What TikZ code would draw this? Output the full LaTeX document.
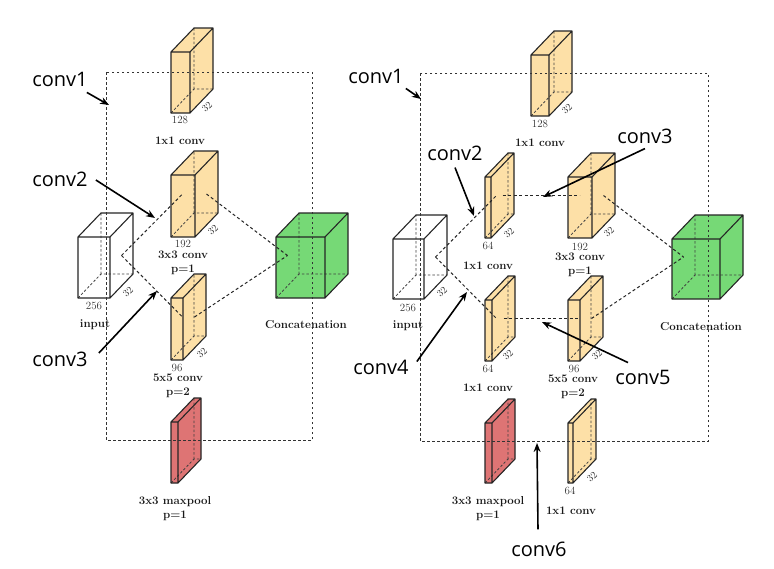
\documentclass[tikz,border=0pt]{standalone}
\usepackage{fontspec}
\newfontfamily\annofont{Open Sans}
\usetikzlibrary{arrows.meta,calc}

\definecolor{convyellow}{RGB}{253,224,167}
\definecolor{catgreen}{RGB}{118,217,118}
\definecolor{poolred}{RGB}{222,116,116}

\tikzset{
  edge/.style={draw=black!85,line width=1.1pt,line join=round},
  hidden/.style={draw=black!75,line width=0.8pt,dash pattern=on 2.5pt off 2pt},
  link/.style={draw=black!85,line width=1pt,dash pattern=on 3pt off 2.5pt},
  frame/.style={draw=black!80,line width=1pt,dash pattern=on 2.5pt off 2.5pt},
  numlab/.style={font=\fontsize{11}{12}\selectfont,text=black!80,inner sep=0pt},
  sidelab/.style={numlab,font=\fontsize{10}{11}\selectfont,rotate=45},
  oplab/.style={font=\fontsize{11.5}{14}\selectfont\bfseries,text=black!90,inner sep=0pt,align=center},
  anno/.style={font=\annofont\fontsize{20}{22}\selectfont,inner sep=0pt},
  pointer/.style={line width=1.6pt,-{Stealth[length=9pt,width=7pt]}}
}

% layer box: name, front top-left x, y, width, height, colour
\newcommand{\layerbox}[6]{%
  \begin{scope}[shift={(#2,#3)}]
    \fill[#6] (0,0) -- (23,-24) -- (#4+23,-24) -- (#4+23,#5-24) -- (#4,#5) -- (0,#5) -- cycle;
    \draw[hidden] (0,#5) -- (23,#5-24) -- (#4+23,#5-24) (23,#5-24) -- (23,-24);
    \draw[edge] (0,0) rectangle (#4,#5) (0,0) -- (23,-24) -- (#4+23,-24) -- (#4,0)
      (#4+23,-24) -- (#4+23,#5-24) -- (#4,#5);
    \coordinate (#1-west) at (11.5,#5/2-12);
    \coordinate (#1-east) at (#4+11.5,#5/2-12);
  \end{scope}}

\begin{document}
\begin{tikzpicture}[x=1pt,y=-1pt]
  \path[use as bounding box,fill=white] (0,0) rectangle (774,568);

  % left block
  \layerbox{lin}{78}{237}{32}{61}{white}
  \layerbox{la}{171}{52}{19}{61}{convyellow}
  \layerbox{lb}{171}{175}{24}{62}{convyellow}
  \layerbox{lc}{171}{298}{12}{62}{convyellow}
  \layerbox{lpool}{171}{422}{7}{61}{poolred}
  \layerbox{lcat}{276}{237}{49}{61}{catgreen}

  \draw[frame] (106,72) rectangle (312,440);
  \draw[link] (lin-east) -- (lb-west);
  \draw[link] (lin-east) -- (lc-west);
  \draw[link] (lb-east) -- (lcat-west);
  \draw[link] (lc-east) -- (lcat-west);

  \node[numlab] (lin-n) at (94,306) {256};
  \node[sidelab] (lin-d) at (128,292) {32};
  \node[oplab] (lin-op) at (95,325) {input};
  \node[numlab] (la-n) at (180,120) {128};
  \node[sidelab] (la-d) at (207,107) {32};
  \node[oplab] (la-op) at (180,141) {1x1 conv};
  \node[numlab] (lb-n) at (183,244) {192};
  \node[sidelab] (lb-d) at (213,230) {32};
  \node[oplab] (lb-op) at (183,263) {3x3 conv\\p=1};
  \node[numlab] (lc-n) at (177,368) {96};
  \node[sidelab] (lc-d) at (202,353) {32};
  \node[oplab] (lc-op) at (178,386) {5x5 conv\\p=2};
  \node[oplab] (lcat-op) at (306,325) {Concatenation};
  \node[oplab] (lpool-op) at (175,509) {3x3 maxpool\\p=1};

  \node[anno] (lc1) at (60,79) {conv1};
  \node[anno] (lc2) at (60,179) {conv2};
  \node[anno] (lc3) at (60,359) {conv3};
  \coordinate (lt1) at (109,105);
  \coordinate (lt2) at (155,218);
  \coordinate (lt3) at (157,291);
  \draw[pointer] ($(lc1.south east)+(-1,6)$) -- (lt1);
  \draw[pointer] ($(lc2.east)+(8,1)$) -- (lt2);
  \draw[pointer] ($(lc3.east)+(11,-6)$) -- (lt3);

  % right block
  \layerbox{rin}{393}{239}{31}{60}{white}
  \layerbox{ra}{531}{55}{18}{61}{convyellow}
  \layerbox{rb}{485}{177}{6}{61}{convyellow}
  \layerbox{rc}{568}{177}{24}{61}{convyellow}
  \layerbox{rd}{485}{300}{7}{61}{convyellow}
  \layerbox{re}{568}{300}{12}{61}{convyellow}
  \layerbox{rpool}{485}{423}{7}{60}{poolred}
  \layerbox{rf}{568}{423}{5}{60}{convyellow}
  \layerbox{rcat}{672}{239}{48}{60}{catgreen}

  \draw[frame] (420,73) rectangle (708,441);
  \draw[link] (rin-east) -- (rb-west);
  \draw[link] (rb-east) -- (rc-west);
  \draw[link] (rc-east) -- (rcat-west);
  \draw[link] (rin-east) -- (rd-west);
  \draw[link] (rd-east) -- (re-west);
  \draw[link] (re-east) -- (rcat-west);

  \node[numlab] (rin-n) at (408,308) {256};
  \node[sidelab] (rin-d) at (442,292) {32};
  \node[oplab] (rin-op) at (408,326) {input};
  \node[numlab] (ra-n) at (540,124) {128};
  \node[sidelab] (ra-d) at (567,109) {32};
  \node[oplab] (ra-op) at (540,143) {1x1 conv};
  \node[numlab] (rb-n) at (488,246) {64};
  \node[sidelab] (rb-d) at (509,233) {32};
  \node[oplab] (rb-op) at (488,266) {1x1 conv};
  \node[numlab] (rc-n) at (580,247) {192};
  \node[sidelab] (rc-d) at (609,232) {32};
  \node[oplab] (rc-op) at (580,265) {3x3 conv\\p=1};
  \node[numlab] (rd-n) at (488,369) {64};
  \node[sidelab] (rd-d) at (508,355) {32};
  \node[oplab] (rd-op) at (488,388) {1x1 conv};
  \node[numlab] (re-n) at (574,369) {96};
  \node[sidelab] (re-d) at (597,355) {32};
  \node[oplab] (re-op) at (573,387) {5x5 conv\\p=2};
  \node[oplab] (rpool-op) at (488,509) {3x3 maxpool\\p=1};
  \node[numlab] (rf-n) at (570,491) {64};
  \node[sidelab] (rf-d) at (592,477) {32};
  \node[oplab] (rf-op) at (571,511) {1x1 conv};
  \node[oplab] (rcat-op) at (701,327) {Concatenation};

  \node[anno] (rc1) at (376,76) {conv1};
  \node[anno] (rc2) at (455,153) {conv2};
  \node[anno] (rc3) at (645,136) {conv3};
  \node[anno] (rc4) at (381,367) {conv4};
  \node[anno] (rc5) at (643,377) {conv5};
  \node[anno] (rc6) at (539,549) {conv6};
  \coordinate (rt1) at (421,99);
  \coordinate (rt2) at (474,216);
  \coordinate (rt3) at (543,197);
  \coordinate (rt4) at (467,292);
  \coordinate (rt5) at (542,322);
  \coordinate (rt6) at (537,443);
  \draw[pointer] ($(rc1.south east)+(2,5)$) -- (rt1);
  \draw[pointer] ($(rc2.south)+(0,7)$) -- (rt2);
  \draw[pointer] ($(rc3.south)+(0,5)$) -- (rt3);
  \draw[pointer] ($(rc4.north east)+(8,2)$) -- (rt4);
  \draw[pointer] ($(rc5.north)+(-15,-7)$) -- (rt5);
  \draw[pointer] ($(rc6.north)+(-1,-12)$) -- (rt6);
\end{tikzpicture}
\end{document}
